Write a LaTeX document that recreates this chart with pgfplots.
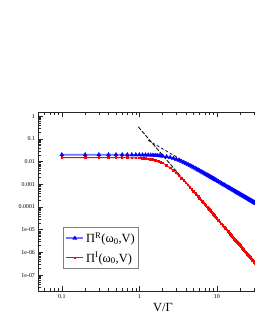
\documentclass[border=0pt]{standalone}
\usepackage{fontspec}
\setmainfont{Liberation Serif}
\usepackage{pgfplots}
\pgfplotsset{compat=1.18}
\pgfplotstableread{
V PiR PiI
0.1 0.020000 0.015000
0.2 0.020000 0.014999
0.3 0.019998 0.014994
0.4 0.019995 0.014982
0.5 0.019988 0.014956
0.6 0.019976 0.014909
0.7 0.019955 0.014833
0.8 0.019924 0.014717
0.9 0.019878 0.014552
1.0 0.019815 0.014327
1.1 0.019731 0.014035
1.2 0.019622 0.013669
1.3 0.019485 0.013227
1.4 0.019316 0.012708
1.5 0.019113 0.012119
1.6 0.018873 0.011471
1.7 0.018596 0.010775
1.8 0.018281 0.010048
1.9 0.017928 0.009306
2.0 0.017540 0.008566
2.25 0.016435 0.006808
2.5 0.015193 0.005293
2.75 0.013891 0.004071
3.0 0.012600 0.003123
3.25 0.011371 0.002404
3.5 0.010238 0.001864
3.75 0.009214 0.001458
4.0 0.008302 0.001152
4.25 0.007495 0.0009193
4.5 0.006783 0.000741
4.75 0.006157 0.0006024
5.0 0.005606 0.000494
5.25 0.005120 0.0004091
5.5 0.004692 0.000335
5.75 0.004312 0.0002867
6.0 0.003975 0.0002425
6.25 0.003674 0.0002065
6.5 0.003406 0.0001769
6.75 0.003164 0.0001523
7.0 0.002947 0.0001319
7.25 0.002751 0.00011476
7.5 0.002574 0.0001003
7.75 0.002413 8.805e-5
8.0 0.002267 7.76e-5
8.25 0.002133 6.865e-5
8.5 0.002011 6.10e-5
8.75 0.001898 5.431e-5
9.0 0.001795 4.85e-5
9.25 0.001700 4.352e-5
9.5 0.001613 3.91e-5
9.75 0.001532 3.527e-5
10 0.001456 3.19e-5
10.5 0.001322 2.624e-5
11 0.001205 2.182e-5
11.5 0.001102 1.825e-5
12 0.001013 1.541e-5
12.5 0.0009345 1.308e-5
13 0.000864 1.119e-5
13.5 0.0008012 9.61e-6
14 0.000745 8.32e-6
14.5 0.0006945 7.22e-6
15 0.000649 6.31e-6
15.5 0.0006077 5.535e-6
16 0.000570 4.88e-6
16.5 0.0005363 4.310e-6
17 0.000505 3.83e-6
17.5 0.0004768 3.407e-6
18 0.000451 3.04e-6
18.5 0.0004266 2.728e-6
19 0.000404 2.45e-6
19.5 0.0003840 2.210e-6
20 0.000365 2.00e-6
20.5 0.0003474 1.809e-6
21 0.000331 1.64e-6
21.5 0.0003159 1.495e-6
22 0.000302 1.36e-6
22.5 0.0002884 1.2466e-6
23 0.000276 1.14e-6
23.5 0.0002644 1.0476e-6
24 0.000253 9.63e-7
24.5 0.0002432 8.868e-7
25 0.000234 8.18e-7
25.5 0.0002245 7.556e-7
26 0.000216 6.99e-7
26.5 0.0002079 6.479e-7
27 0.000200 6.01e-7
27.5 0.0001931 5.587e-7
28 0.000186 5.20e-7
28.5 0.0001798 4.843e-7
29 0.000174 4.52e-7
29.5 0.0001678 4.219e-7
30 0.000162 3.94e-7
30.5 0.0001570 3.692e-7
31 0.000152 3.46e-7
31.5 0.0001472 3.245e-7
32 0.000143 3.05e-7
}\datatable
\begin{document}
\begin{tikzpicture}[x=1bp,y=1bp]
\useasboundingbox (0,0) rectangle (255,330);
\begin{axis}[
  at={(38.5bp,39bp)}, anchor=south west,
  width=225bp, height=178.8bp, scale only axis,
  xmode=log, ymode=log,
  xmin=0.05, xmax=40, ymin=2e-8, ymax=1.5,
  xtick={0.1,1,10}, xticklabels={0.1,1,10},
  minor xtick={0.06,0.07,0.08,0.09,0.2,0.3,0.4,0.5,0.6,0.7,0.8,0.9,2,3,4,5,6,7,8,9,20,30,40},
  ytick={1e-7,1e-6,1e-5,1e-4,1e-3,1e-2,1e-1,1},
  yticklabels={1e-07,1e-06,1e-05,0.0001,0.001,0.01,0.1,1},
  minor ytick={3e-8,4e-8,5e-8,6e-8,7e-8,8e-8,9e-8,
    2e-7,3e-7,4e-7,5e-7,6e-7,7e-7,8e-7,9e-7,
    2e-6,3e-6,4e-6,5e-6,6e-6,7e-6,8e-6,9e-6,
    2e-5,3e-5,4e-5,5e-5,6e-5,7e-5,8e-5,9e-5,
    2e-4,3e-4,4e-4,5e-4,6e-4,7e-4,8e-4,9e-4,
    2e-3,3e-3,4e-3,5e-3,6e-3,7e-3,8e-3,9e-3,
    2e-2,3e-2,4e-2,5e-2,6e-2,7e-2,8e-2,9e-2,
    2e-1,3e-1,4e-1,5e-1,6e-1,7e-1,8e-1,9e-1},
  tick label style={font=\fontsize{6}{7}\selectfont, text=black},
  major tick length=5bp, minor tick length=3bp,
  axis line style={line width=0.6bp, black!85},
  every tick/.style={line width=0.5bp, black!85},
  xlabel={V/Γ},
  xlabel style={font=\fontsize{12.5}{14}\selectfont, at={(axis description cs:0.553,-0.09)}, anchor=center},
  legend style={at={(0.109,0.358)}, anchor=north west, draw=gray, line width=1bp,
    font=\fontsize{12.5}{14}\selectfont, inner xsep=2bp, inner ysep=3bp, row sep=4bp},
  legend cell align=left,
  reverse legend,
]
\addplot[red, line width=0.9bp, mark=square*, mark size=0.8bp,
  mark options={red}] table[x=V, y=PiI] {\datatable};
\addlegendentry{Π\textsuperscript{I}(ω\textsubscript{0},V)}
\addplot[black, line width=0.7bp, dash pattern=on 3bp off 2bp, forget plot]
  coordinates {(1.3,0.0864) (4.5,0.0072)};
\addplot[blue!55, line width=1.6bp, mark=triangle*, mark size=2.4bp,
  mark options={blue, draw=blue, fill=blue, line width=0.3bp}] table[x=V, y=PiR] {\datatable};
\addlegendentry{Π\textsuperscript{R}(ω\textsubscript{0},V)}
\addplot[black, line width=0.8bp, dash pattern=on 4bp off 1.5bp, forget plot]
  coordinates {(0.97,0.34) (32,3.05e-7)};
\end{axis}
\end{tikzpicture}
\end{document}
